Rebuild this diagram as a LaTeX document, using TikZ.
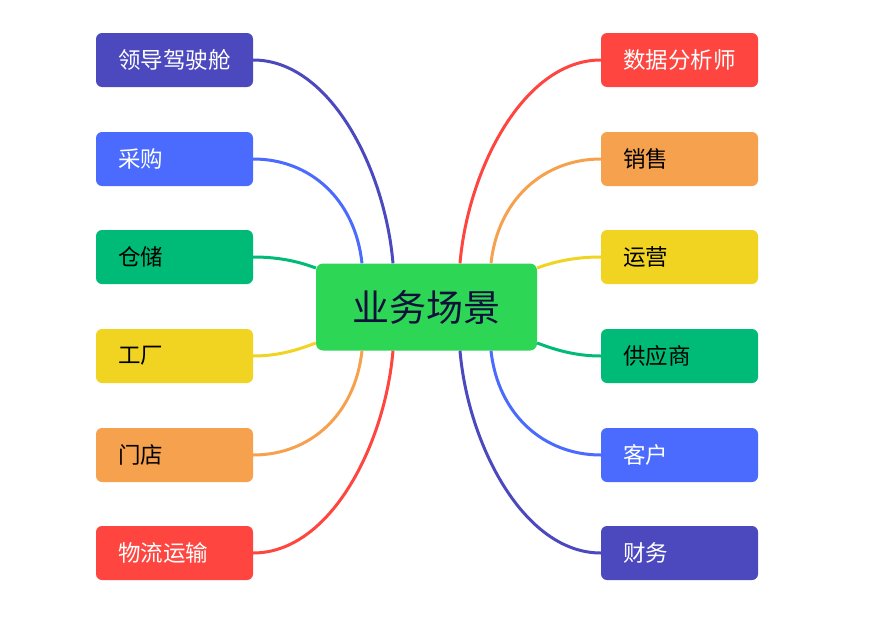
\documentclass[tikz,border=0pt]{standalone}
\usepackage{fontspec}
\setmainfont{Noto Sans CJK SC}
\definecolor{cpurple}{HTML}{4C49BF}
\definecolor{cblue}{HTML}{4A6BFD}
\definecolor{cgreen}{HTML}{00BB77}
\definecolor{cyellow}{HTML}{F1D321}
\definecolor{corange}{HTML}{F6A14D}
\definecolor{cred}{HTML}{FE4540}
\definecolor{ccenter}{HTML}{2DD654}
\definecolor{cnavy}{HTML}{10103A}
\tikzset{
  leaf/.style={rounded corners=6pt, minimum height=54pt, text width=113pt, inner xsep=22pt, inner ysep=0pt, align=left, font=\fontsize{22.5pt}{24pt}\selectfont},
  hub/.style={rounded corners=7pt, fill=ccenter, minimum width=221pt, minimum height=87pt, text=cnavy, font=\fontsize{37pt}{40pt}\selectfont},
  link/.style={line width=3pt}
}
\begin{document}
\begin{tikzpicture}[x=1pt,y=-1pt]
\useasboundingbox (0,0) rectangle (871,624);
\node[hub] (c) at (426.5,307) {业务场景};
% left
\node[leaf, fill=cpurple, text=white] (l1) at (174.5,60) {领导驾驶舱};
\node[leaf, fill=cblue, text=white] (l2) at (174.5,159) {采购};
\node[leaf, fill=cgreen, text=black] (l3) at (174.5,257) {仓储};
\node[leaf, fill=cyellow, text=black] (l4) at (174.5,356) {工厂};
\node[leaf, fill=corange, text=black] (l5) at (174.5,455) {门店};
\node[leaf, fill=cred, text=white] (l6) at (174.5,553) {物流运输};
% right
\node[leaf, fill=cred, text=white] (r1) at (679.5,60) {数据分析师};
\node[leaf, fill=corange, text=black] (r2) at (679.5,159) {销售};
\node[leaf, fill=cyellow, text=black] (r3) at (679.5,257) {运营};
\node[leaf, fill=cgreen, text=black] (r4) at (679.5,356) {供应商};
\node[leaf, fill=cblue, text=white] (r5) at (679.5,455) {客户};
\node[leaf, fill=cpurple, text=white] (r6) at (679.5,553) {财务};
% connectors left
\draw[link, cpurple] (l1.east) .. controls +(77,0) and +(-8,-94) .. ([xshift=-33.5pt]c.north);
\draw[link, cblue] (l2.east) .. controls +(57,0) and +(-7,-64) .. ([xshift=-64.5pt]c.north);
\draw[link, cgreen] (l3.east) .. controls +(27,0) and +(-16,-6) .. ([yshift=39pt]c.west);
\draw[link, cyellow] (l4.east) .. controls +(27,0) and +(-16,6) .. ([yshift=-36pt]c.west);
\draw[link, corange] (l5.east) .. controls +(57,0) and +(-7,64) .. ([xshift=-64.5pt]c.south);
\draw[link, cred] (l6.east) .. controls +(77,0) and +(-8,94) .. ([xshift=-33.5pt]c.south);
% connectors right
\draw[link, cred] (r1.west) .. controls +(-77,0) and +(8,-94) .. ([xshift=33.5pt]c.north);
\draw[link, corange] (r2.west) .. controls +(-57,0) and +(7,-64) .. ([xshift=64.5pt]c.north);
\draw[link, cyellow] (r3.west) .. controls +(-27,0) and +(16,-6) .. ([yshift=39pt]c.east);
\draw[link, cgreen] (r4.west) .. controls +(-27,0) and +(16,6) .. ([yshift=-36pt]c.east);
\draw[link, cblue] (r5.west) .. controls +(-57,0) and +(7,64) .. ([xshift=64.5pt]c.south);
\draw[link, cpurple] (r6.west) .. controls +(-77,0) and +(8,94) .. ([xshift=33.5pt]c.south);
\end{tikzpicture}
\end{document}
